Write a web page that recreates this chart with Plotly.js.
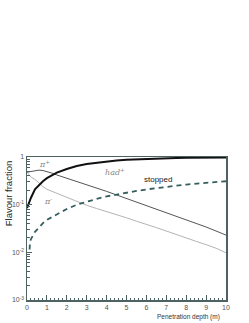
<!DOCTYPE html>
<html>
<head>
<meta charset="utf-8">
<script src="https://cdn.plot.ly/plotly-3.0.1.min.js"></script>
<style>html,body{margin:0;padding:0;background:#fff;}#chart{width:249px;height:323px;}</style>
</head>
<body>
<div id="chart"></div>
<script>
// Penetration depth samples (m)
const depth = [0, 0.1, 0.2, 0.4, 0.6, 0.8, 1, 1.25, 1.5, 2, 2.5, 3, 3.5, 4, 4.5, 5, 5.5, 6, 6.5, 7, 7.5, 8, 8.5, 9, 9.5, 10];
// hadronic interaction fraction
const hadFrac = [0.085, 0.11, 0.14, 0.21, 0.26, 0.31, 0.36, 0.42, 0.47, 0.56, 0.65, 0.71, 0.76, 0.8, 0.84, 0.88, 0.9, 0.92, 0.935, 0.945, 0.953, 0.96, 0.965, 0.97, 0.975, 0.98];
// pi+ fraction
const piPlusFrac = [0.48, 0.49, 0.5, 0.52, 0.53, 0.52, 0.5, 0.46, 0.42, 0.36, 0.3, 0.26, 0.22, 0.19, 0.16, 0.135, 0.115, 0.097, 0.08, 0.068, 0.058, 0.048, 0.041, 0.034, 0.028, 0.023];
// pi- fraction
const piMinusFrac = [0.48, 0.43, 0.38, 0.34, 0.28, 0.24, 0.21, 0.19, 0.17, 0.14, 0.118, 0.097, 0.083, 0.072, 0.062, 0.053, 0.045, 0.039, 0.033, 0.028, 0.024, 0.02, 0.017, 0.0145, 0.0122, 0.0098];
// stopped fraction
const depthStopped = [0.13, 0.15, 0.2, 0.4, 0.6, 0.8, 1, 1.25, 1.5, 2, 2.5, 3, 3.5, 4, 4.5, 5, 5.5, 6, 6.5, 7, 7.5, 8, 8.5, 9, 9.5, 10];
const stoppedFrac = [0.0115, 0.017, 0.019, 0.027, 0.033, 0.041, 0.048, 0.055, 0.063, 0.081, 0.1, 0.116, 0.132, 0.149, 0.164, 0.179, 0.194, 0.209, 0.224, 0.237, 0.25, 0.264, 0.277, 0.289, 0.3, 0.31];

const yTickVals = [0.001, 0.01, 0.1, 1];
const yTickText = ['10<sup>-3</sup>', '10<sup>-2</sup>', '10<sup>-1</sup>', '1'];
const xTickVals = [0, 1, 2, 3, 4, 5, 6, 7, 8, 9, 10];

const traces = [
  {x: depth, y: piMinusFrac, mode: 'lines', line: {color: '#b4b4b4', width: 1}, hoverinfo: 'none'},
  {x: depth, y: piPlusFrac, mode: 'lines', line: {color: '#555555', width: 1}, hoverinfo: 'none'},
  {x: depthStopped, y: stoppedFrac, mode: 'lines', line: {color: '#365e5e', width: 1.8, dash: '5px,4px'}, hoverinfo: 'none'},
  {x: depth, y: hadFrac, mode: 'lines', line: {color: '#111111', width: 2}, hoverinfo: 'none'}
];

const axisCol = '#4f6262';
const layout = {
  width: 249, height: 323,
  margin: {l: 27, r: 23, t: 157, b: 23, pad: 0},
  paper_bgcolor: '#ffffff', plot_bgcolor: '#ffffff',
  showlegend: false,
  font: {family: 'Liberation Sans, Arial, sans-serif', size: 7, color: '#555'},
  xaxis: {
    range: [0, 10], showgrid: false, zeroline: false,
    showline: true, linecolor: axisCol, linewidth: 1.5, mirror: true,
    tickmode: 'array', tickvals: xTickVals, ticktext: xTickVals.map(String),
    ticks: 'inside', ticklen: 5, tickcolor: axisCol, tickwidth: 1,
    tickfont: {size: 7, color: '#555'},
    minor: {dtick: 0.2, ticks: 'inside', ticklen: 2.5, tickcolor: axisCol, showgrid: false}
  },
  yaxis: {
    type: 'log', range: [-3, 0], showgrid: false, zeroline: false,
    showline: true, linecolor: axisCol, linewidth: 1.5, mirror: true,
    tickmode: 'array', tickvals: yTickVals, ticktext: yTickText,
    ticks: 'inside', ticklen: 5, tickcolor: axisCol, tickwidth: 1,
    tickfont: {size: 7, color: '#555'},
    minor: {dtick: 'D1', ticks: 'inside', ticklen: 2.5, tickcolor: axisCol, showgrid: false}
  },
  annotations: [
    {xref: 'paper', yref: 'paper', x: -0.095, y: 0.74, xanchor: 'center', yanchor: 'middle', textangle: -90,
     text: 'Flavour fraction', showarrow: false, font: {size: 9.5, color: '#222'}},
    {xref: 'paper', yref: 'paper', x: 0.98, y: -0.075, xanchor: 'right', yanchor: 'top',
     text: 'Penetration depth (m)', showarrow: false, font: {size: 6.5, color: '#333'}},
    {x: 0.89, y: Math.log10(0.72), text: '<i>π</i><sup>+</sup>', showarrow: false, font: {size: 8, color: '#888', family: 'DejaVu Serif, serif'}},
    {x: 4.4, y: Math.log10(0.48), text: '<i>had</i><sup>+</sup>', showarrow: false, font: {size: 8, color: '#888', family: 'DejaVu Serif, serif'}},
    {x: 1.06, y: Math.log10(0.118), text: '<i>π</i><sup>-</sup>', showarrow: false, font: {size: 8, color: '#888', family: 'DejaVu Serif, serif'}},
    {x: 6.6, y: Math.log10(0.33), text: 'stopped', showarrow: false, font: {size: 8, color: '#222'}}
  ]
};

Plotly.newPlot('chart', traces, layout, {staticPlot: true, displayModeBar: false});
</script>
</body>
</html>
